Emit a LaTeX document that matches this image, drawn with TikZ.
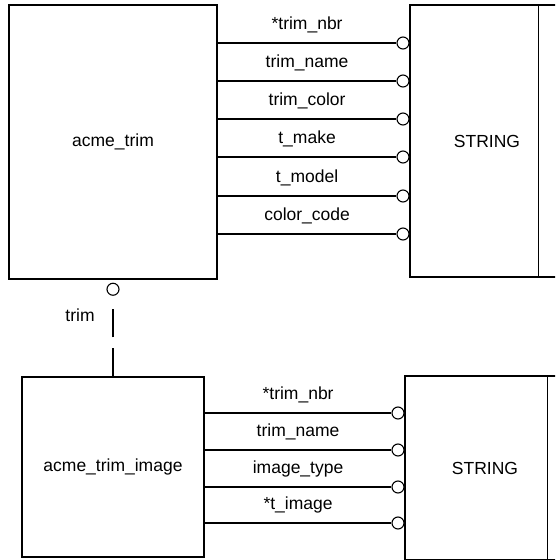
\documentclass[tikz,border=0pt]{standalone}
\usepackage{fontspec}
\setmainfont{Liberation Sans}
\usetikzlibrary{positioning,calc}

\begin{document}
\begin{tikzpicture}[
  x=1pt, y=-1pt,
  font=\fontsize{17.5}{20}\selectfont,
  entity/.style={draw, line width=1.4pt, inner sep=0pt, align=center},
  link/.style={line width=1.4pt},
  ring/.style={draw, circle, line width=1.1pt, fill=white, inner sep=0pt, minimum size=12pt},
  attr/.style={anchor=south, inner xsep=0pt, inner ysep=9pt, text height=12pt, text depth=4pt}
]
\useasboundingbox (0,0) rectangle (555,560);
\clip (0,0) rectangle (555,560);

% entities
\node[entity, minimum width=208pt, minimum height=274pt] (acme_trim) at (113,142) {acme\_trim};
\node[entity, minimum width=182pt, minimum height=180pt] (acme_trim_image) at (113,467) {acme\_trim\_image};

% domains (cut off at the right edge)
\node[entity, minimum width=154pt, minimum height=272pt] (string_a) at (487,141) {STRING};
\node[entity, minimum width=160pt, minimum height=184pt] (string_b) at (485,468) {STRING};
\draw[link] ($(string_a.north west)+(129,0)$) -- ($(string_a.south west)+(129,0)$);
\draw[link] ($(string_b.north west)+(143,0)$) -- ($(string_b.south west)+(143,0)$);

% attributes of acme_trim
\foreach \lbl/\y [count=\i] in {*trim\_nbr/43, trim\_name/81, trim\_color/119, t\_make/157, t\_model/196, color\_code/234} {
  \node[ring] (ta\i) at (403,\y) {};
  \draw[link] (acme_trim.east |- ta\i) -- (ta\i.west) node[attr, midway] {\lbl};
}

% attributes of acme_trim_image
\foreach \lbl/\y [count=\i] in {*trim\_nbr/413, trim\_name/450, image\_type/487, *t\_image/523} {
  \node[ring] (ti\i) at (398,\y) {};
  \draw[link] (acme_trim_image.east |- ti\i) -- (ti\i.west) node[attr, midway] {\lbl};
}

% relationship
\node[ring, below=3pt of acme_trim] (trim_ring) {};
\draw[link, dash pattern=on 28pt off 11pt, shorten >=4pt] (acme_trim_image.north) -- (trim_ring.south);
\node (trim_lbl) at (80,315) {trim};
\end{tikzpicture}
\end{document}
